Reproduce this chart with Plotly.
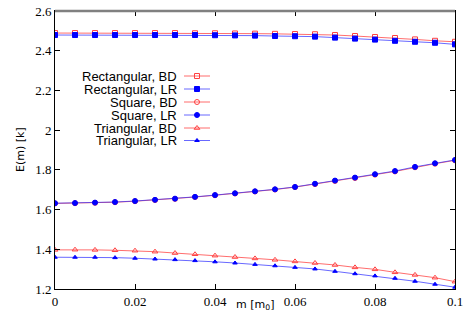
import plotly.graph_objects as go

m_vals = [0, 0.005, 0.01, 0.015, 0.02, 0.025, 0.03, 0.035, 0.04, 0.045, 0.05,
          0.055, 0.06, 0.065, 0.07, 0.075, 0.08, 0.085, 0.09, 0.095, 0.1]

rect_bd = [2.489, 2.489, 2.489, 2.489, 2.489, 2.489, 2.489, 2.488, 2.488, 2.487, 2.486,
           2.485, 2.484, 2.483, 2.479, 2.474, 2.469, 2.464, 2.457, 2.450, 2.445]
rect_lr = [2.479, 2.479, 2.479, 2.479, 2.479, 2.479, 2.479, 2.479, 2.478, 2.477, 2.476,
           2.474, 2.473, 2.471, 2.466, 2.461, 2.456, 2.450, 2.445, 2.440, 2.432]
sq_bd = [1.631, 1.632, 1.634, 1.637, 1.642, 1.648, 1.654, 1.663, 1.672, 1.681, 1.691,
         1.701, 1.713, 1.728, 1.744, 1.759, 1.776, 1.792, 1.813, 1.831, 1.848]
sq_lr = [1.632, 1.633, 1.635, 1.638, 1.643, 1.649, 1.655, 1.664, 1.673, 1.682, 1.692,
         1.702, 1.714, 1.730, 1.746, 1.761, 1.778, 1.794, 1.815, 1.833, 1.850]
tri_bd = [1.397, 1.398, 1.397, 1.395, 1.393, 1.388, 1.381, 1.375, 1.368, 1.361, 1.354,
          1.347, 1.339, 1.331, 1.321, 1.309, 1.299, 1.284, 1.271, 1.257, 1.237]
tri_lr = [1.360, 1.360, 1.360, 1.358, 1.355, 1.351, 1.348, 1.343, 1.337, 1.331, 1.324,
          1.317, 1.309, 1.301, 1.289, 1.277, 1.266, 1.254, 1.239, 1.224, 1.209]

x_ticks = [0, 0.02, 0.04, 0.06, 0.08, 0.1]
x_ticklabels = ["0", "0.02", "0.04", "0.06", "0.08", "0.1"]
y_ticks = [1.2, 1.4, 1.6, 1.8, 2.0, 2.2, 2.4, 2.6]
y_ticklabels = ["1.2", "1.4", "1.6", "1.8", "2", "2.2", "2.4", "2.6"]

names = ["Rectangular, BD", "Rectangular, LR", "Square, BD", "Square, LR",
         "Triangular, BD", "Triangular, LR"]
x_title = "m [m<sub>0</sub>]"
y_title = "E(m) [k]"

RED_LINE = "rgba(255,60,60,0.75)"
RED = "#ff4040"
BLUE_LINE = "rgba(40,40,255,0.7)"
BLUE = "#0000ff"

series = [
    (rect_bd, "square-open", RED_LINE, RED, 5),
    (rect_lr, "square", BLUE_LINE, BLUE, 5),
    (sq_bd, "circle-open", RED_LINE, RED, 5),
    (sq_lr, "circle", BLUE_LINE, BLUE, 5),
    (tri_bd, "triangle-up-open", RED_LINE, RED, 5),
    (tri_lr, "triangle-up", BLUE_LINE, BLUE, 4),
]

fig = go.Figure()
order = [0, 2, 4, 1, 3, 5]
for i in order:
    ys, sym, lc, mc, ms = series[i]
    fig.add_trace(go.Scatter(
        x=m_vals, y=ys, mode="lines+markers", name=names[i], showlegend=False,
        line=dict(color=lc, width=1),
        marker=dict(symbol=sym, size=ms, color=mc, line=dict(color=mc, width=1)),
    ))

# manual legend (sample on the right of the text); coordinates in plot pixels
row_y = [65, 78, 91, 104, 117, 129.5]
for k, (ys, sym, lc, mc, ms) in enumerate(series):
    fig.add_trace(go.Scatter(
        x=[129, 155], y=[row_y[k], row_y[k]], xaxis="x2", yaxis="y2", mode="lines",
        line=dict(color=lc, width=1), showlegend=False, hoverinfo="skip"))
    fig.add_trace(go.Scatter(
        x=[142], y=[row_y[k]], xaxis="x2", yaxis="y2", mode="markers",
        marker=dict(symbol=sym, size=ms, color=mc, line=dict(color=mc, width=1)),
        showlegend=False, hoverinfo="skip"))
    fig.add_annotation(x=124, y=row_y[k], xref="x2", yref="y2", text=names[k],
                       showarrow=False, xanchor="right", yanchor="middle",
                       font=dict(family="Liberation Sans", size=13, color="black"))

# axis titles
fig.add_annotation(x=0.5, y=0, xref="paper", yref="paper", yshift=-16, text=x_title,
                   showarrow=False, xanchor="center", yanchor="middle",
                   font=dict(family="DejaVu Sans", size=11, color="black"))
fig.add_annotation(x=0, y=0.5, xref="paper", yref="paper", xshift=-35, text=y_title,
                   showarrow=False, xanchor="center", yanchor="middle", textangle=-90,
                   font=dict(family="DejaVu Sans", size=11, color="black"))

axis_common = dict(showgrid=False, zeroline=False, ticks="inside", ticklen=5,
                   tickcolor="black", linecolor="black", linewidth=1, showline=True,
                   mirror="ticks", automargin=False, ticklabeloverflow="allow",
                   tickfont=dict(family="Liberation Serif", size=13, color="black"))

fig.update_layout(
    width=469, height=328,
    margin=dict(l=55, r=14, t=11, b=39),
    paper_bgcolor="white", plot_bgcolor="white",
    xaxis=dict(range=[0, 0.1], tickvals=x_ticks, ticktext=x_ticklabels, **axis_common),
    yaxis=dict(range=[1.2, 2.6], tickvals=y_ticks, ticktext=y_ticklabels, **axis_common),
    xaxis2=dict(range=[0, 400], overlaying="x", visible=False, fixedrange=True),
    yaxis2=dict(range=[278, 0], overlaying="y", visible=False, fixedrange=True),
    shapes=[dict(type="line", xref="paper", yref="paper", x0=0, x1=1, y0=1, y1=1,
                 line=dict(color="#808080", width=2.5), layer="above")],
)

fig.write_html("out.html", config={"displayModeBar": False},
               post_script="document.body.style.margin='0px';document.body.style.padding='0px';")
